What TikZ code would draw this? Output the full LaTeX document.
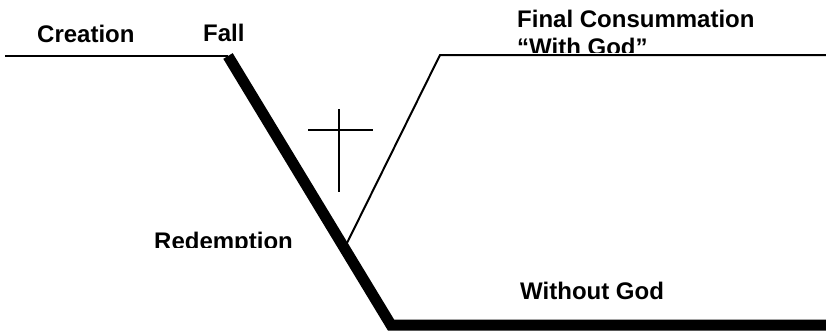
\documentclass[tikz,border=0pt]{standalone}
\usepackage{fontspec}
\setmainfont{Liberation Sans}
\begin{document}
\begin{tikzpicture}[x=1pt,y=-1pt,
  lbl/.style={inner sep=0pt,anchor=base west,font=\fontsize{24}{26}\selectfont\bfseries},
  thinln/.style={line width=2pt},
  thickln/.style={line width=11pt,line join=miter}]
\useasboundingbox (0,0) rectangle (826,333);
% texts
\node[lbl] (creation) at (37,42) {Creation};
\node[lbl] (fall) at (203,41) {Fall};
\node[lbl] (final) at (517,27) {Final Consummation};
\begin{scope}
  \clip (500,30) rectangle (700,52);
  \node[lbl] (withgod) at (517,55) {“With God”};
\end{scope}
\begin{scope}
  \clip (140,220) rectangle (310,247);
  \node[lbl] (redemption) at (154,249) {Redemption};
\end{scope}
\node[lbl] (without) at (520,299) {Without God};
% coordinates
\coordinate (c0) at (5,56);
\coordinate (c1) at (228,56);
\coordinate (c2) at (391,325);
\coordinate (c3) at (826,325);
\coordinate (r0) at (347,243);
\coordinate (r1) at (440,55);
\coordinate (r2) at (826,55);
\coordinate (xt) at (339,109);
\coordinate (xb) at (339,192);
\coordinate (xl) at (308,130);
\coordinate (xr) at (373,130);
% lines
\draw[line width=2.6pt] (c0) -- (c1);
\draw[thickln] (c1) -- (c2) -- (c3);
\draw[thinln] (r0) -- (r1) -- (r2);
\draw[thinln] (xt) -- (xb);
\draw[thinln] (xl) -- (xr);
\end{tikzpicture}
\end{document}
